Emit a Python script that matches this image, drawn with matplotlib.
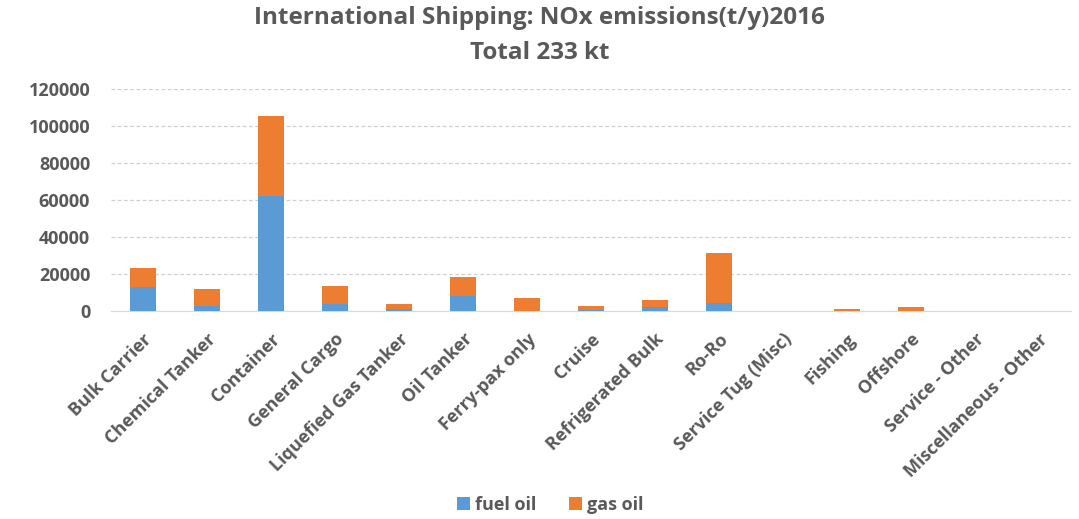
import matplotlib
matplotlib.use('Agg')
import matplotlib.pyplot as plt
import numpy as np

# ship types
categories = ['Bulk Carrier', 'Chemical Tanker', 'Container', 'General Cargo',
              'Liquefied Gas Tanker', 'Oil Tanker', 'Ferry-pax only', 'Cruise',
              'Refrigerated Bulk', 'Ro-Ro', 'Service Tug (Misc)', 'Fishing',
              'Offshore', 'Service - Other', 'Miscellaneous - Other']
# NOx t/y
fuel_oil = [12600, 2500, 62300, 3600, 750, 7900, 100, 400, 2000, 4000, 0, 0, 0, 0, 0]
gas_oil = [10300, 9200, 43000, 9900, 3000, 10500, 6600, 2300, 3900, 27300, 0, 800, 1800, 0, 0]
yticks = [0, 20000, 40000, 60000, 80000, 100000, 120000]

plt.rcParams['font.family'] = ['Open Sans', 'DejaVu Sans']
grey = '#595959'

fig = plt.figure(figsize=(10.79, 5.19), dpi=100)
ax = fig.add_axes([0.1029, 0.4013, 0.8897, 0.4267])

x = np.arange(len(categories))
ax.bar(x, fuel_oil, 0.41, color='#5b9bd5', label='fuel oil', zorder=3)
ax.bar(x, gas_oil, 0.41, bottom=fuel_oil, color='#ed7d31', label='gas oil', zorder=3)

ax.set_xlim(-0.5, len(categories) - 0.5)
ax.set_ylim(0, 120000)
ax.set_yticks(yticks)
ax.set_yticklabels([str(v) for v in yticks], fontsize=13, fontweight='bold', color=grey)
ax.set_xticks(x)
ax.set_xticklabels(categories, rotation=45, ha='right', rotation_mode='anchor',
                   fontsize=13, fontweight='bold', color=grey)
ax.tick_params(axis='y', length=0, pad=15)
ax.tick_params(axis='x', length=0, pad=14)
ax.grid(axis='y', color='#d0d0d0', linestyle=(0, (3, 2)), linewidth=0.9, zorder=0)
for s in ['top', 'right', 'left']:
    ax.spines[s].set_visible(False)
ax.spines['bottom'].set_color('#d9d9d9')

fig.text(0.5, 0.965, 'International Shipping: NOx emissions(t/y)2016',
         ha='center', va='center', fontsize=17.5, fontweight='bold', color=grey)
fig.text(0.5, 0.897, 'Total 233 kt', ha='center', va='center',
         fontsize=17.5, fontweight='bold', color=grey)

fig.legend(loc='center', bbox_to_anchor=(0.51, 0.027), ncol=2, frameon=False,
           prop={'size': 13, 'weight': 'bold'}, labelcolor=grey,
           handlelength=0.7, handleheight=0.7, handletextpad=0.3, columnspacing=1.8)

fig.savefig('out.png', dpi=100)
